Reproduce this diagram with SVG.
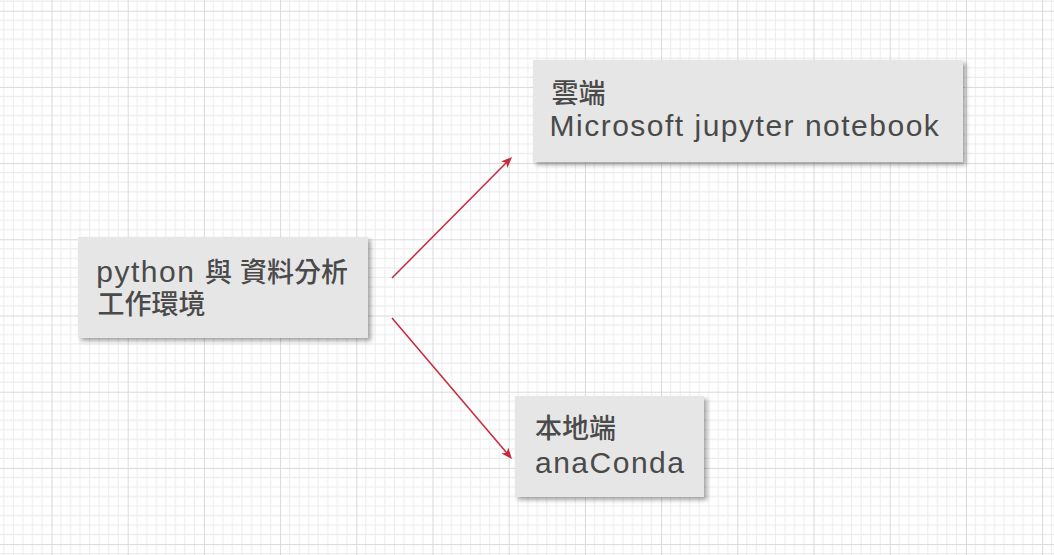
<svg xmlns="http://www.w3.org/2000/svg" width="1054" height="555" viewBox="0 0 1054 555">
  <style>
    .box { fill: #e6e6e6; filter: url(#shadow); }
    .lat { font-family: "Liberation Sans", Arial, "Noto Sans CJK TC", sans-serif; font-size: 30px; letter-spacing: 1.5px; fill: #4a4a4a; }
    .cjk { font-family: "Noto Sans CJK TC", "Noto Sans CJK SC", sans-serif; font-size: 27px; font-weight: 500; fill: #4a4a4a; letter-spacing: 0; }
    .conn { stroke: #c8283a; stroke-width: 1.5; fill: none; marker-end: url(#arrow); }
  </style>
  <defs>
    <pattern id="grid" patternUnits="userSpaceOnUse" x="51.5" y="10.7" width="76.2" height="76.2">
      <g stroke="#ececec" stroke-width="1">
        <path d="M9.525 0V76.2M19.05 0V76.2M28.575 0V76.2M38.1 0V76.2M47.625 0V76.2M57.15 0V76.2M66.675 0V76.2"/>
        <path d="M0 9.525H76.2M0 19.05H76.2M0 28.575H76.2M0 38.1H76.2M0 47.625H76.2M0 57.15H76.2M0 66.675H76.2"/>
      </g>
      <path d="M0.5 0V76.2M0 0.5H76.2" stroke="#d9d9d9" stroke-width="1"/>
    </pattern>
    <filter id="shadow" x="-10%" y="-10%" width="125%" height="135%">
      <feDropShadow dx="3" dy="3" stdDeviation="2" flood-color="#000" flood-opacity="0.35"/>
    </filter>
    <marker id="arrow" markerUnits="userSpaceOnUse" markerWidth="13" markerHeight="11" refX="7" refY="4.5" orient="auto" viewBox="0 0 13 11">
      <path d="M0,0 L11,4.5 L0,9 L2.8,4.5 Z" fill="#c8283a"/>
    </marker>
  </defs>
  <rect x="0" y="0" width="1054" height="555" fill="#ffffff"/>
  <rect x="0" y="0" width="1054" height="555" fill="url(#grid)"/>

  <g id="connectors">
    <path class="conn" d="M392,278 L509.2,159.8"/>
    <path class="conn" d="M392,318 L509.4,455.9"/>
  </g>

  <g id="node-python">
    <rect class="box" x="78" y="237" width="290" height="101"/>
    <text y="281.5"><tspan class="lat" x="96.3">python </tspan><tspan class="cjk" x="205">與 </tspan><tspan class="cjk" x="240">資料分析</tspan></text>
    <text class="cjk" x="97.5" y="313.5">工作環境</text>
  </g>

  <g id="node-cloud">
    <rect class="box" x="533" y="60" width="430" height="102"/>
    <text class="cjk" x="551.5" y="103">雲端</text>
    <text class="lat" x="549.5" y="136">Microsoft jupyter notebook</text>
  </g>

  <g id="node-local">
    <rect class="box" x="515" y="396" width="189" height="101"/>
    <text class="cjk" x="535" y="437.5">本地端</text>
    <text class="lat" x="535" y="472.5">anaConda</text>
  </g>
</svg>
